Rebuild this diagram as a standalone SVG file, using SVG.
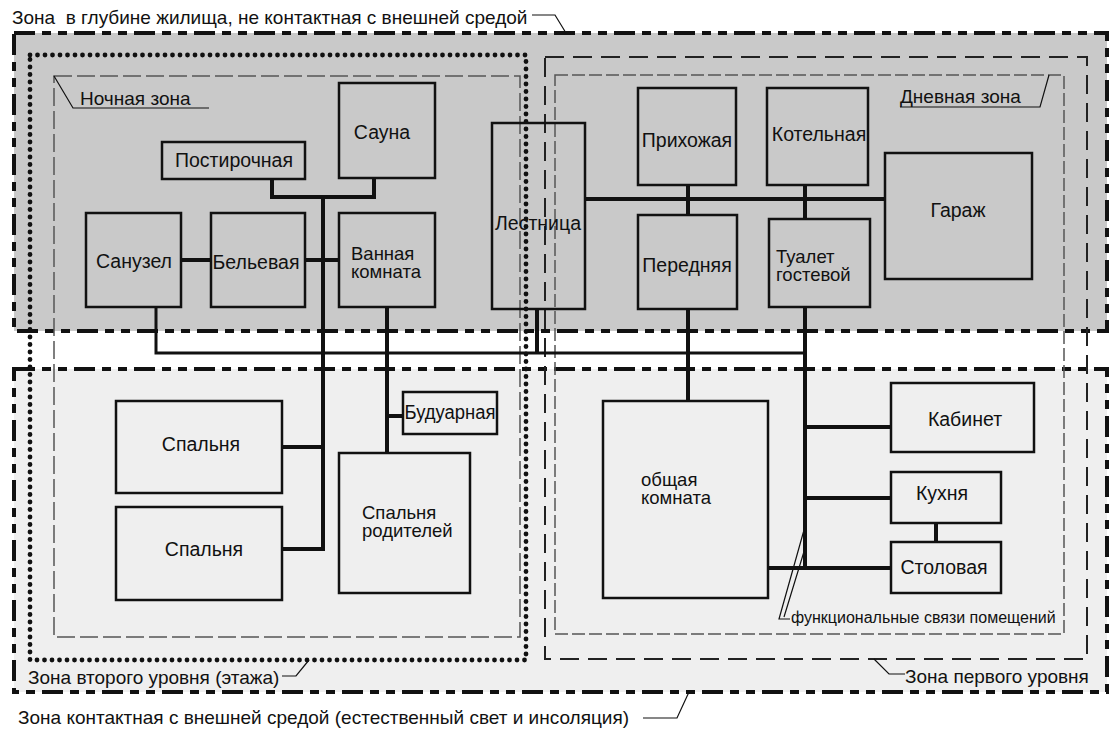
<svg xmlns="http://www.w3.org/2000/svg" width="1119" height="732" viewBox="0 0 1119 732">
<style>
text{font-family:"Liberation Sans",Arial,sans-serif;font-size:19.5px;fill:#111}
.node rect{fill:none;stroke:#111;stroke-width:2.5}
.two{font-size:18.5px}
.c{fill:none;stroke:#111;stroke-width:4}
.thin{fill:none;stroke:#111;stroke-width:1.2}
.outer{stroke:#111;stroke-width:4;stroke-dasharray:21 7 9 7 9 7}
.dot{fill:none;stroke:#111;stroke-width:4.8;stroke-linecap:round;stroke-dasharray:0 7.5}
.lvl{fill:none;stroke:#222;stroke-width:2;stroke-dasharray:19 9}
.zone{fill:none;stroke:#555;stroke-width:1.5;stroke-dasharray:18 5}
.zone2{fill:none;stroke:#555;stroke-width:1.5;stroke-dasharray:13 4}
.lbl{font-size:19px}
</style>
<rect width="1119" height="732" fill="#fff"/>
<g id="zones">
<rect class="outer" x="14" y="33" width="1093" height="298" fill="#c9c9c9"/>
<rect class="outer" x="14" y="369" width="1093" height="323" fill="#efefef"/>
<rect class="dot" x="30" y="55" width="496" height="605"/>
<rect class="zone" x="54" y="76" width="466" height="561"/>
<rect class="lvl" x="545" y="57" width="542" height="602"/>
<rect class="zone2" x="555" y="75" width="509" height="559"/>
</g>
<g id="labels">
<text class="lbl" x="12" y="24" xml:space="preserve">Зона  в глубине жилища, не контактная с внешней средой</text>
<path class="thin" d="M532,15 H555 L566,33"/>
<text class="lbl" x="80" y="105">Ночная зона</text>
<path class="thin" d="M54,76 L73,108 H209"/>
<text class="lbl" x="900" y="103">Дневная зона</text>
<path class="thin" d="M900,107 H1040 L1049,75"/>
<text class="lbl" x="28" y="684">Зона второго уровня (этажа)</text>
<path class="thin" d="M282,676 H296 L309,660"/>
<text class="lbl" x="905" y="683">Зона первого уровня</text>
<path class="thin" d="M874,659 L889,674 H905"/>
<text class="lbl" x="18" y="724">Зона контактная с внешней средой (естественный свет и инсоляция)</text>
<path class="thin" d="M643,718 H677 L689,692"/>
<text x="791" y="623" style="font-size:16px">функциональные связи помещений</text>
<path class="thin" d="M804,530 L779,619 H790 M806,545 L784,617"/>
</g>
<g id="connectors">
<path class="c" d="M272,179 V197 H374 V178"/>
<path class="c" d="M323,197 V549 H282"/>
<path class="c" d="M323,447 H282"/>
<path class="c" d="M181,260 H211"/>
<path class="c" d="M305,260 H339"/>
<path class="c" d="M387,307 V453"/>
<path class="c" d="M387,416 H403"/>
<path class="c" style="stroke-width:3" d="M156,307 V353 H805"/>
<path class="c" d="M537,309 V353"/>
<path class="c" d="M585,199 H885"/>
<path class="c" d="M688,185 V215"/>
<path class="c" d="M805,185 V219"/>
<path class="c" d="M688,309 V401"/>
<path class="c" d="M805,307 V568"/>
<path class="c" d="M805,427 H891"/>
<path class="c" d="M805,498 H891"/>
<path class="c" d="M768,568 H891"/>
<path class="c" d="M936,523 V542"/>
</g>
<g id="n-sauna" class="node"><rect x="339" y="83" width="96" height="95"/><text x="382" y="139" text-anchor="middle">Сауна</text></g>
<g id="n-postirochnaya" class="node"><rect x="162" y="142" width="143" height="37"/><text x="234" y="167" text-anchor="middle">Постирочная</text></g>
<g id="n-sanuzel" class="node"><rect x="86" y="213" width="95" height="94"/><text x="134" y="268" text-anchor="middle">Санузел</text></g>
<g id="n-belevaya" class="node"><rect x="211" y="213" width="94" height="94"/><text x="256" y="269" text-anchor="middle">Бельевая</text></g>
<g id="n-vannaya" class="node"><rect x="339" y="213" width="96" height="94"/><text class="two" x="351" y="260">Ванная</text><text class="two" x="351" y="278">комната</text></g>
<g id="n-lestnitsa" class="node"><rect x="492" y="123" width="93" height="186"/><text x="538" y="230" text-anchor="middle">Лестница</text></g>
<g id="n-prihozhaya" class="node"><rect x="638" y="88" width="98" height="97"/><text x="687" y="147" text-anchor="middle">Прихожая</text></g>
<g id="n-kotelnaya" class="node"><rect x="767" y="88" width="101" height="97"/><text x="819" y="141" text-anchor="middle">Котельная</text></g>
<g id="n-garazh" class="node"><rect x="885" y="153" width="147" height="126"/><text x="958" y="217" text-anchor="middle">Гараж</text></g>
<g id="n-perednyaya" class="node"><rect x="638" y="215" width="99" height="94"/><text x="687" y="272" text-anchor="middle">Передняя</text></g>
<g id="n-tualet" class="node"><rect x="769" y="219" width="101" height="88"/><text class="two" x="776" y="263">Туалет</text><text class="two" x="776" y="281">гостевой</text></g>
<g id="n-obshaya" class="node"><rect x="603" y="401" width="165" height="197"/><text class="two" x="641" y="486">общая</text><text class="two" x="641" y="504">комната</text></g>
<g id="n-kabinet" class="node"><rect x="891" y="383" width="143" height="69"/><text x="965" y="426" text-anchor="middle">Кабинет</text></g>
<g id="n-kuhnya" class="node"><rect x="891" y="472" width="110" height="51"/><text x="942" y="500" text-anchor="middle">Кухня</text></g>
<g id="n-stolovaya" class="node"><rect x="891" y="542" width="110" height="51"/><text x="944" y="574" text-anchor="middle">Столовая</text></g>
<g id="n-spalnya1" class="node"><rect x="116" y="401" width="166" height="92"/><text x="201" y="451" text-anchor="middle">Спальня</text></g>
<g id="n-spalnya2" class="node"><rect x="116" y="507" width="166" height="93"/><text x="204" y="556" text-anchor="middle">Спальня</text></g>
<g id="n-spalnya-rod" class="node"><rect x="339" y="453" width="131" height="140"/><text class="two" x="362" y="519">Спальня</text><text class="two" x="362" y="537">родителей</text></g>
<g id="n-buduarnaya" class="node"><rect x="403" y="392" width="94" height="42"/><text x="450" y="419" text-anchor="middle" textLength="91" lengthAdjust="spacingAndGlyphs">Будуарная</text></g>
</svg>
